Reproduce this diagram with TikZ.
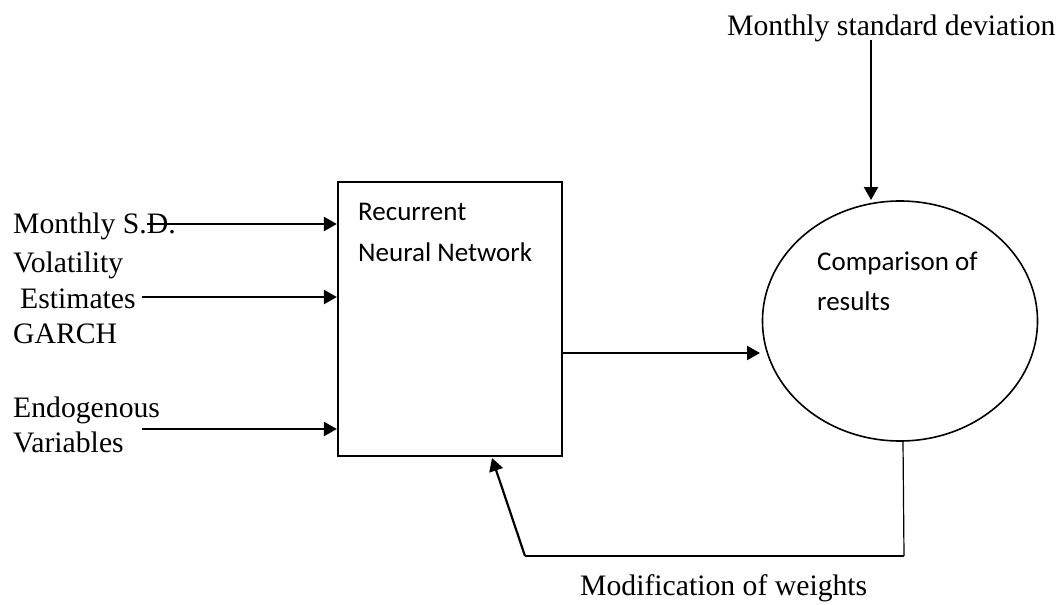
\documentclass[tikz,border=0pt]{standalone}
\usepackage{fontspec}
\setmainfont{Liberation Serif}
\newfontfamily\calib{Carlito}
\usetikzlibrary{arrows.meta,shapes.geometric}
\begin{document}
\begin{tikzpicture}[x=1pt,y=-1pt,
  serif/.style={inner sep=0pt,anchor=base west,font=\fontsize{29.7}{34}\selectfont},
  sans/.style={inner sep=0pt,anchor=base west,font=\calib\fontsize{27}{31}\selectfont},
  arr/.style={line width=2.2pt,-{Triangle[length=13pt,width=14pt]}},
  conn/.style={line width=2pt}]
\useasboundingbox (0,0) rectangle (1058,605);
% box
\node[draw,line width=2.2pt,minimum width=224pt,minimum height=274pt,inner sep=0pt] (rnn) at (450,319) {};
\node[sans] (rnnA) at (358,220) {Recurrent};
\node[sans] (rnnB) at (358,261) {Neural Network};
% ellipse
\node[draw,ellipse,line width=1.6pt,minimum width=275pt,minimum height=240pt,inner sep=0pt] (cmp) at (900,321) {};
\node[sans] (cmpA) at (817,270) {Comparison of};
\node[sans] (cmpB) at (817,310) {results};
% labels
\node[serif] (msd) at (13,233) {Monthly S.D.};
\node[serif] (vol) at (13,272) {Volatility};
\node[serif] (est) at (20,308) {Estimates};
\node[serif] (garch) at (13,343) {GARCH};
\node[serif] (endo) at (13,417) {Endogenous};
\node[serif] (vars) at (13,452) {Variables};
\node[serif] (top) at (727,35) {Monthly standard deviation};
\node[serif] (mod) at (580,595) {Modification of weights};
% coordinates
\coordinate (s1) at (147,224);
\coordinate (s2) at (142,297);
\coordinate (s3) at (142,429);
\coordinate (t0) at (871,40);
\coordinate (fb0) at (903,441);
\coordinate (fb1) at (904,556);
\coordinate (fb2) at (525,556);
\coordinate (fbt) at (492,458);
% arrows
\draw[arr] (s1) -- (s1 -| rnn.west);
\draw[arr] (s2) -- (s2 -| rnn.west);
\draw[arr] (s3) -- (s3 -| rnn.west);
\draw[arr] (rnn.east |- 0,353) -- (760,353);
\draw[arr] (t0) -- (871,200);
\draw[line width=1.2pt] (fb0) -- (fb1);
\draw[conn] (fb1) -- (fb2);
\draw[arr] (fb2) -- (fbt);
\end{tikzpicture}
\end{document}
